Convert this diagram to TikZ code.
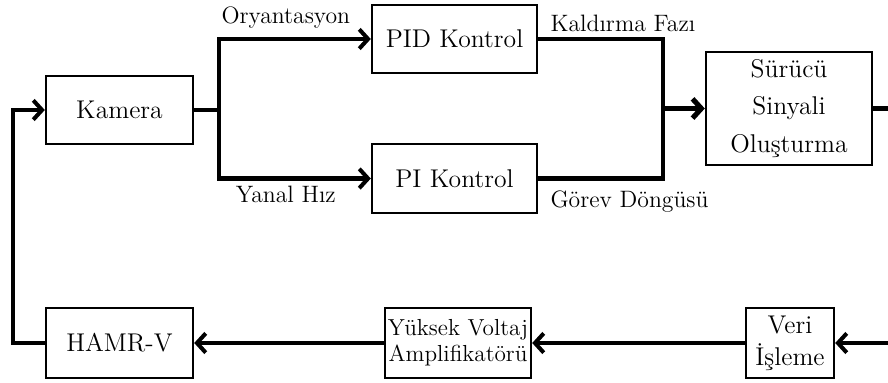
\documentclass[tikz,border=0pt]{standalone}
\usetikzlibrary{arrows.meta}

\tikzset{
    block/.style={draw, line width=1.4pt, align=center, inner sep=2pt,
        font=\fontsize{14.6}{18}\selectfont},
    wire/.style={line width=2.3pt},
    sig/.style={wire, -{Straight Barb[length=5pt,width=11pt]}},
    lbl/.style={font=\fontsize{13.5}{15}\selectfont, inner sep=3pt}
}

\begin{document}
\begin{tikzpicture}[x=0.02cm, y=-0.02cm]
        \useasboundingbox (0,0) rectangle (888,382);

        % Blocks
        \node[block, minimum width=2.94cm, minimum height=1.36cm] (kamera) at (119.5,110) {Kamera};
        \node[block, minimum width=3.3cm, minimum height=1.36cm] (pid) at (454.5,39) {PID Kontrol};
        \node[block, minimum width=3.3cm, minimum height=1.38cm] (pi) at (454.5,178.5) {PI Kontrol};
        \node[block, minimum width=3.32cm, minimum height=2.26cm,
              font=\fontsize{14.6}{21.5}\selectfont] (surucu) at (789,108.5) {Sürücü\\Sinyali\\Oluşturma};
        \node[block, minimum width=2.94cm, minimum height=1.4cm] (hamr) at (119.5,343) {HAMR-V};
        \node[block, minimum width=2.92cm, minimum height=1.4cm, inner sep=0.5pt,
              font=\fontsize{13.2}{15}\selectfont] (yuksek) at (458,343) {Yüksek Voltaj\\Amplifikatörü};
        \node[block, minimum width=1.76cm, minimum height=1.4cm,
              font=\fontsize{14.6}{18}\selectfont] (veri) at (790,343) {Veri\\İşleme};

        \coordinate (split) at (219,110);
        \coordinate (merge) at (663,108.5);
        \coordinate (fbtop) at (13,110);
        \coordinate (outr) at (888,108.5);
        \coordinate (inr) at (888,343);

        % Forward path
        \draw[wire] (kamera.east) -- (split);
        \draw[sig] (split) |- node[lbl, pos=0.72, above, yshift=2pt] {Oryantasyon} (pid.west);
        \draw[sig] (split) |- node[lbl, pos=0.72, below] {Yanal Hız} (pi.west);
        \draw[wire] (pid.east) -| node[lbl, pos=0.02, anchor=south west] {Kaldırma Fazı} (merge);
        \draw[wire] (pi.east) -| node[lbl, pos=0.02, anchor=north west, yshift=-3pt] {Görev Döngüsü} (merge);
        \draw[sig, line width=2.9pt] (merge) -- (surucu.west);
        \draw[wire] (surucu.east) -- (outr);

        % Feedback path
        \draw[sig] (inr) -- (veri.east);
        \draw[sig] (veri.west) -- (yuksek.east);
        \draw[sig] (yuksek.west) -- (hamr.east);
        \draw[sig] (hamr.west) -| (fbtop) -- (kamera.west);
    \end{tikzpicture}
\end{document}
